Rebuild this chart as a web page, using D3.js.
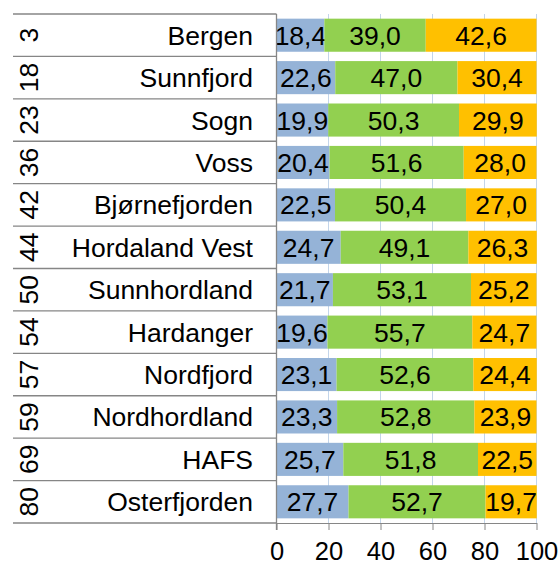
<!DOCTYPE html>
<html>
<head>
<meta charset="utf-8">
<script src="https://cdn.jsdelivr.net/npm/d3@7"></script>
<style>
  body { margin: 0; background: #fff; }
  svg { font-family: "Liberation Sans", Arial, sans-serif; }
</style>
</head>
<body>
<svg id="chart" width="560" height="565"></svg>
<script>
// data
const regions = ["Bergen", "Sunnfjord", "Sogn", "Voss", "Bjørnefjorden", "Hordaland Vest",
  "Sunnhordland", "Hardanger", "Nordfjord", "Nordhordland", "HAFS", "Osterfjorden"];
const ranks = [3, 18, 23, 36, 42, 44, 50, 54, 57, 59, 69, 80];
const blue = [18.4, 22.6, 19.9, 20.4, 22.5, 24.7, 21.7, 19.6, 23.1, 23.3, 25.7, 27.7];
const green = [39.0, 47.0, 50.3, 51.6, 50.4, 49.1, 53.1, 55.7, 52.6, 52.8, 51.8, 52.7];
const orange = [42.6, 30.4, 29.9, 28.0, 27.0, 26.3, 25.2, 24.7, 24.4, 23.9, 22.5, 19.7];
const xTicks = [0, 20, 40, 60, 80, 100];

const colors = ["#95b3d7", "#92d050", "#ffc000"];
const gray = "#868686";
const fs = 26.5;

var svg = d3.select("#chart");

var x = d3.scaleLinear().domain([0, 100]).range([276.5, 536.5]);
var y = d3.scaleBand().domain(regions).range([14, 523]).paddingInner(0.22).paddingOuter(0.11);

var rows = regions.map((r, i) => ({ region: r, rank: ranks[i], vals: [blue[i], green[i], orange[i]] }));
var fmt = v => d3.format(".1f")(v).replace(".", ",");

// gridlines
svg.append("g")
  .selectAll("line")
  .data(xTicks.slice(1))
  .join("line")
    .attr("x1", d => x(d)).attr("x2", d => x(d))
    .attr("y1", 14).attr("y2", 523)
    .attr("stroke", "#c3d5ea")
    .attr("stroke-width", 1);

// stacked bars
var stack = d3.stack().keys([0, 1, 2]).value((d, k) => d.vals[k]);
var series = stack(rows);

var layer = svg.append("g")
  .selectAll("g")
  .data(series)
  .join("g")
    .attr("fill", (d, i) => colors[i]);

layer.selectAll("rect")
  .data(d => d)
  .join("rect")
    .attr("x", d => x(d[0]))
    .attr("width", d => x(d[1]) - x(d[0]))
    .attr("y", d => y(d.data.region))
    .attr("height", y.bandwidth());

layer.selectAll("text")
  .data(d => d.map(s => ({ s: s, v: s[1] - s[0] })))
  .join("text")
    .attr("x", d => (x(d.s[0]) + x(d.s[1])) / 2)
    .attr("y", d => y(d.s.data.region) + y.bandwidth() / 2 + 9.5)
    .attr("text-anchor", "middle")
    .attr("fill", "#000")
    .attr("font-size", fs)
    .text(d => fmt(d.v));

// bottom axis
var xAxis = svg.append("g")
  .attr("transform", "translate(0,523)")
  .call(d3.axisBottom(x).tickValues(xTicks).tickSize(7).tickSizeOuter(0).tickPadding(12));
xAxis.select(".domain").attr("stroke", gray);
xAxis.selectAll(".tick line").attr("stroke", gray);
xAxis.selectAll(".tick text")
  .attr("font-size", 25.5)
  .attr("font-family", "Liberation Sans, Arial, sans-serif")
  .attr("fill", "#000");

// left category table
var step = y.step();
var bounds = d3.range(regions.length + 1).map(i => 14 + i * step);

svg.append("g")
  .selectAll("line")
  .data(bounds)
  .join("line")
    .attr("x1", 13).attr("x2", 276.5)
    .attr("y1", d => d).attr("y2", d => d)
    .attr("stroke", gray)
    .attr("stroke-width", 1.3);

svg.append("line")
  .attr("x1", 276.5).attr("x2", 276.5)
  .attr("y1", 14).attr("y2", 530)
  .attr("stroke", gray)
  .attr("stroke-width", 1.3);

svg.append("g")
  .selectAll("text")
  .data(rows)
  .join("text")
    .attr("x", 253)
    .attr("y", d => y(d.region) + y.bandwidth() / 2 + 9.5)
    .attr("text-anchor", "end")
    .attr("font-size", fs)
    .text(d => d.region);

svg.append("g")
  .selectAll("text")
  .data(rows)
  .join("text")
    .attr("transform", d => "translate(38," + (y(d.region) + y.bandwidth() / 2) + ") rotate(-90)")
    .attr("text-anchor", "middle")
    .attr("font-size", fs)
    .text(d => d.rank);
</script>
</body>
</html>
